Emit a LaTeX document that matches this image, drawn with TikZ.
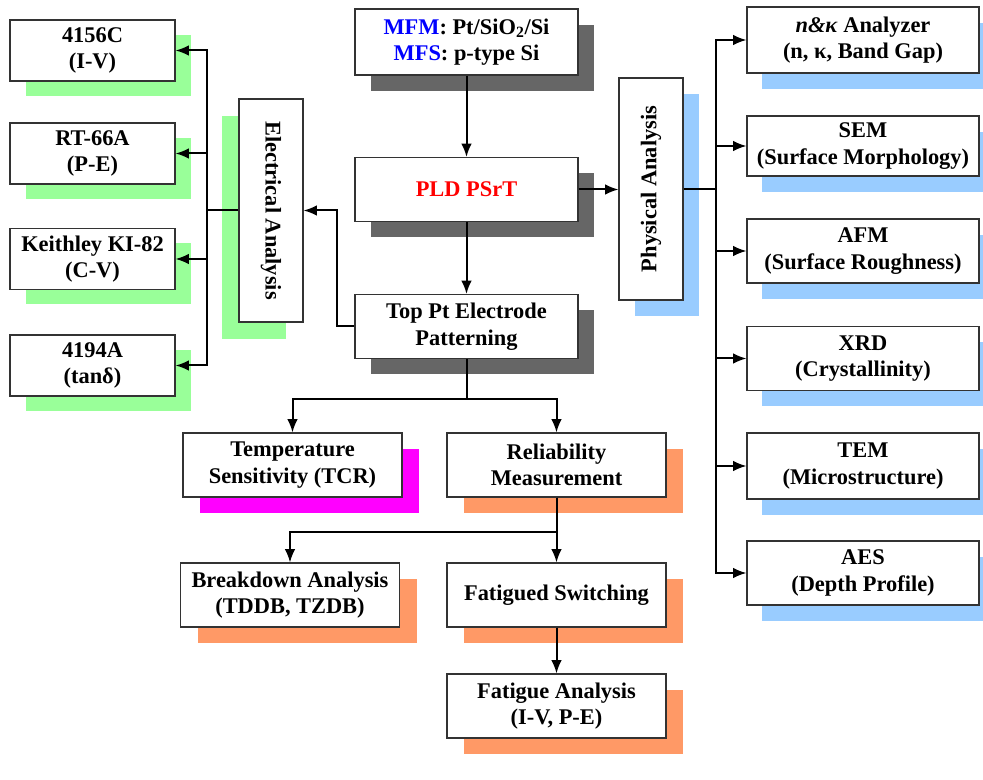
\documentclass[tikz,border=0pt]{standalone}
\usepackage{fontspec}
\setmainfont{Liberation Serif}
\usepackage{graphicx}
\usetikzlibrary{arrows.meta,shadows}

\definecolor{grn}{HTML}{99FF99}
\definecolor{blu}{HTML}{99CCFF}
\definecolor{org}{HTML}{FF9966}
\definecolor{mgt}{HTML}{FF00FF}
\definecolor{gry}{HTML}{666666}

\begin{document}
\begin{tikzpicture}[x=0.75pt,y=-0.75pt]
	\tikzstyle{box}=[draw=black!80, fill=white, line width=0.8pt, align=center, inner sep=1pt, font=\fontsize{16.8}{20}\selectfont\bfseries]
	\tikzstyle{inst}=[box, minimum width=123.75pt, minimum height=45.75pt, general shadow={fill=grn, shadow xshift=12pt, shadow yshift=-11.25pt}]
	\tikzstyle{elecbox}=[box, minimum width=48pt, minimum height=167.25pt, general shadow={fill=grn, shadow xshift=-12.75pt, shadow yshift=-12.75pt}]
	\tikzstyle{proc}=[box, minimum width=167.25pt, minimum height=48pt, general shadow={fill=gry, shadow xshift=12pt, shadow yshift=-12pt}]
	\tikzstyle{physbox}=[box, minimum width=48pt, minimum height=166.5pt, general shadow={fill=blu, shadow xshift=12pt, shadow yshift=-12pt}]
	\tikzstyle{tool}=[box, minimum width=174pt, minimum height=48pt, general shadow={fill=blu, shadow xshift=11.25pt, shadow yshift=-12pt}]
	\tikzstyle{meas}=[box, minimum width=164.25pt, minimum height=48pt, general shadow={fill=org, shadow xshift=12.75pt, shadow yshift=-12pt}]
	\tikzstyle{connect}=[-{Latex[length=10pt,width=8pt]}, line width=1.5pt]
	\tikzstyle{bus}=[line width=1.5pt]
	\useasboundingbox (0,0) rectangle (983,780);
	% electrical side
	\node[inst] (iv) at (92.5,50.5) {4156C\\(I-V)};
	\node[inst] (pe) at (92.5,153.5) {RT-66A\\(P-E)};
	\node[inst] (cv) at (92.5,259) {Keithley KI-82\\(C-V)};
	\node[inst] (tan) at (92.5,365.5) {4194A\\(tanδ)};
	\node[elecbox] (elec) at (271,210.5) {\rotatebox{-90}{Electrical Analysis}};
	% process flow
	\node[proc, minimum height=49.5pt] (sub) at (466.5,42) {\textcolor{blue}{MFM}: Pt/SiO\textsubscript{2}/Si\\\textcolor{blue}{MFS}: p-type Si};
	\node[proc] (pld) at (466.5,189.5) {\textcolor{red}{PLD PSrT}};
	\node[proc] (top) at (466.5,326.5) {Top Pt Electrode\\Patterning};
	% physical side
	\node[physbox] (phys) at (651,189) {\rotatebox{90}{Physical Analysis}};
	\node[tool, minimum height=49.5pt] (nk) at (863,40) {\textit{n\&κ} Analyzer\\(n, κ, Band Gap)};
	\node[tool, minimum height=45pt] (sem) at (863,146) {SEM\\(Surface Morphology)};
	\node[tool] (afm) at (863,251) {AFM\\(Surface Roughness)};
	\node[tool] (xrd) at (863,358.5) {XRD\\(Crystallinity)};
	\node[tool, minimum height=49.5pt] (tem) at (863,466) {TEM\\(Microstructure)};
	\node[tool] (aes) at (863,573) {AES\\(Depth Profile)};
	% measurements
	\node[meas, general shadow={fill=mgt, shadow xshift=12.75pt, shadow yshift=-12pt}] (tcr) at (292.5,465) {Temperature\\Sensitivity (TCR)};
	\node[meas] (rel) at (556.5,465) {Reliability\\Measurement};
	\node[meas] (bd) at (290,595) {Breakdown Analysis\\(TDDB, TZDB)};
	\node[meas] (fs) at (556.5,595) {Fatigued Switching};
	\node[meas] (fa) at (556.5,706) {Fatigue Analysis\\(I-V, P-E)};
	% connectors
	\draw[connect] (sub) -- (pld);
	\draw[connect] (pld) -- (top);
	\draw[connect] (pld.east) -- (pld.east -| phys.west);
	\draw[connect] (top.west) -- ++(-17,0) |- (elec.east);
	\draw[bus] (elec.west) -- ++(-31,0) coordinate (lbus);
	\foreach \n in {iv,pe,cv,tan}
		\draw[connect] (lbus) |- (\n.east);
	\draw[bus] (phys.east) -- ++(32,0) coordinate (rbus);
	\foreach \n in {nk,sem,afm,xrd,tem,aes}
		\draw[connect] (rbus) |- (\n.west);
	\draw[bus] (top.south) -- ++(0,40) coordinate (tsplit);
	\draw[connect] (tsplit) -| (tcr.north);
	\draw[connect] (tsplit) -| (rel.north);
	\draw[bus] (rel.south) -- ++(0,34) coordinate (rsplit);
	\draw[connect] (rsplit) -| (bd.north);
	\draw[connect] (rel) -- (fs);
	\draw[connect] (fs) -- (fa);
\end{tikzpicture}
\end{document}
